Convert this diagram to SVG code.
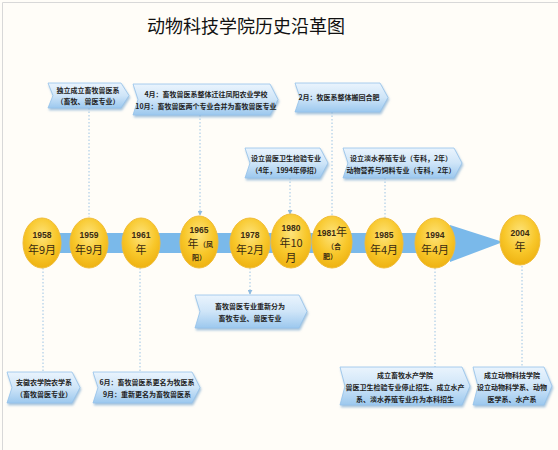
<svg xmlns="http://www.w3.org/2000/svg" width="558" height="450" viewBox="0 0 558 450">
<defs>
<linearGradient id="cg" x1="0" y1="0" x2="0" y2="1">
<stop offset="0" stop-color="#eaf4fd"/>
<stop offset="0.5" stop-color="#cfe5f8"/>
<stop offset="1" stop-color="#9cc8ee"/>
</linearGradient>
<radialGradient id="gg" cx="0.5" cy="0.35" r="0.65">
<stop offset="0" stop-color="#fde37a"/>
<stop offset="0.6" stop-color="#f8c72a"/>
<stop offset="1" stop-color="#eeb212"/>
</radialGradient>
<filter id="sh" x="-10%" y="-10%" width="130%" height="140%">
<feDropShadow dx="1" dy="2" stdDeviation="1" flood-color="#6d9fcc" flood-opacity="0.6"/>
</filter>
<marker id="ah" viewBox="0 0 6 6" refX="5" refY="3" markerWidth="5" markerHeight="5" orient="auto">
<path d="M0,0 L6,3 L0,6 Z" fill="#8fbbe0"/>
</marker>
</defs>
<style>
.co{fill:url(#cg);stroke:#94c2ea;stroke-width:0.8;filter:url(#sh)}
.ct{font-family:"Noto Sans CJK SC","Noto Sans",sans-serif;font-size:7px;font-weight:bold;fill:#222;text-anchor:middle}
.yr{fill:url(#gg);stroke:#f0bc38;stroke-width:1}
.y1{font-family:"Liberation Sans","Noto Sans CJK SC",sans-serif;font-size:8.5px;font-weight:bold;fill:#3a2a10;text-anchor:middle}
.y2{font-family:"Noto Sans CJK SC",sans-serif;font-size:11px;fill:#3a2a10;text-anchor:middle}
.y3{font-family:"Noto Sans CJK SC",sans-serif;font-size:7px;font-weight:bold;fill:#3a2a10;text-anchor:middle}
.dl{stroke:#9cc4e4;stroke-width:1;stroke-dasharray:1.5 2;fill:none}
</style>
<rect x="0" y="0" width="558" height="450" fill="#fffdf8"/>
<path d="M2.5,450 L2.5,2.5 L558,2.5" fill="none" stroke="#d8d8d8" stroke-width="1"/>
<text x="246" y="33" font-family="Noto Sans CJK SC,sans-serif" font-size="18" fill="#111" text-anchor="middle">动物科技学院历史沿革图</text>

<g id="timeline">
<rect x="30" y="233" width="425" height="20" fill="#7ab9ea"/>
<path d="M450,225 L503,242 L450,262 Z" fill="#7ab9ea"/>
</g>

<g id="connectors">
<line class="dl" x1="89" y1="108" x2="89" y2="217"/>
<line class="dl" x1="200" y1="115" x2="200" y2="215" marker-end="url(#ah)"/>
<line class="dl" x1="332" y1="112" x2="332" y2="216"/>
<line class="dl" x1="290" y1="178" x2="290" y2="214" marker-end="url(#ah)"/>
<line class="dl" x1="385" y1="178" x2="385" y2="222" marker-end="url(#ah)"/>
<line class="dl" x1="43" y1="268" x2="43" y2="372"/>
<line class="dl" x1="140" y1="268" x2="140" y2="372"/>
<line class="dl" x1="250" y1="268" x2="250" y2="294" marker-end="url(#ah)"/>
<line class="dl" x1="435" y1="268" x2="435" y2="367"/>
<line class="dl" x1="522" y1="252" x2="522" y2="367"/>
</g>

<g id="y1958"><ellipse class="yr" cx="42" cy="243" rx="19" ry="25"/><text class="y1" x="42" y="238">1958</text><text class="y2" x="42" y="254">年9月</text></g>
<g id="y1959"><ellipse class="yr" cx="89" cy="243" rx="19" ry="25"/><text class="y1" x="89" y="238">1959</text><text class="y2" x="89" y="254">年9月</text></g>
<g id="y1961"><ellipse class="yr" cx="141" cy="243" rx="19" ry="25"/><text class="y1" x="141" y="238">1961</text><text class="y2" x="141" y="254">年</text></g>
<g id="y1965"><ellipse class="yr" cx="199" cy="242" rx="19" ry="26"/><text class="y1" x="199" y="233">1965</text><text class="y2" x="193" y="248">年</text><text class="y3" x="206" y="247">（凤</text><text class="y3" x="199" y="260">阳）</text></g>
<g id="y1978"><ellipse class="yr" cx="250" cy="243" rx="20" ry="25"/><text class="y1" x="250" y="238">1978</text><text class="y2" x="250" y="254">年2月</text></g>
<g id="y1980"><ellipse class="yr" cx="291" cy="241" rx="20" ry="27"/><text class="y1" x="291" y="231">1980</text><text class="y2" x="291" y="247">年10</text><text class="y2" x="291" y="262">月</text></g>
<g id="y1981"><ellipse class="yr" cx="332" cy="242" rx="20" ry="26"/><text class="y1" x="332" y="236">1981<tspan font-family="Noto Sans CJK SC" font-size="11" font-weight="normal">年</tspan></text><text class="y3" x="334" y="249">（合</text><text class="y3" x="330" y="259">肥）</text></g>
<g id="y1985"><ellipse class="yr" cx="384" cy="243" rx="19" ry="25"/><text class="y1" x="384" y="238">1985</text><text class="y2" x="384" y="254">年4月</text></g>
<g id="y1994"><ellipse class="yr" cx="435" cy="243" rx="20" ry="25"/><text class="y1" x="435" y="238">1994</text><text class="y2" x="435" y="254">年4月</text></g>
<g id="y2004"><ellipse class="yr" cx="520" cy="240" rx="20" ry="25"/><text class="y1" x="520" y="236">2004</text><text class="y2" x="520" y="251">年</text></g>

<g id="c1959"><path class="co" d="M48,83 L121,83 L129,95.5 L121,108 L48,108 L53,95.5 Z"/><text class="ct" x="88" y="93">独立成立畜牧兽医系</text><text class="ct" x="88" y="104">（畜牧、兽医专业）</text></g>
<g id="c1965"><path class="co" d="M133,84 L270,84 L278,99.5 L270,115 L133,115 L138,99.5 Z"/><text class="ct" x="206" y="97">4月：畜牧兽医系整体迁往凤阳农业学校</text><text class="ct" x="206" y="109">10月：畜牧兽医两个专业合并为畜牧兽医专业</text></g>
<g id="c1981"><path class="co" d="M295,83 L380,83 L388,97.5 L380,112 L295,112 L300,97.5 Z"/><text class="ct" x="339" y="100">2月：牧医系整体搬回合肥</text></g>
<g id="c1980"><path class="co" d="M245,148 L320,148 L328,163 L320,178 L245,178 L250,163 Z"/><text class="ct" x="286" y="161">设立兽医卫生检验专业</text><text class="ct" x="286" y="173">（4年，1994年停招）</text></g>
<g id="c1985"><path class="co" d="M343,148 L454,148 L462,163 L454,178 L343,178 L348,163 Z"/><text class="ct" x="401" y="161">设立淡水养殖专业（专科，2年）</text><text class="ct" x="401" y="173">动物营养与饲料专业（专科，2年）</text></g>
<g id="c1978"><path class="co" d="M195,295 L299,295 L307,311.5 L299,328 L195,328 L200,311.5 Z"/><text class="ct" x="250" y="309">畜牧兽医专业重新分为</text><text class="ct" x="250" y="321">畜牧专业、兽医专业</text></g>
<g id="c1958"><path class="co" d="M7,372 L72,372 L80,387.5 L72,403 L7,403 L12,387.5 Z"/><text class="ct" x="44" y="385">安徽农学院农学系</text><text class="ct" x="44" y="397">（畜牧兽医专业）</text></g>
<g id="c1961"><path class="co" d="M93,372 L192,372 L200,387.5 L192,403 L93,403 L98,387.5 Z"/><text class="ct" x="147" y="385">6月：畜牧兽医系更名为牧医系</text><text class="ct" x="147" y="397">9月：重新更名为畜牧兽医系</text></g>
<g id="c1994"><path class="co" d="M340,367 L462,367 L470,386 L462,405 L340,405 L345,386 Z"/><text class="ct" x="405" y="378">成立畜牧水产学院</text><text class="ct" x="405" y="390">兽医卫生检验专业停止招生、成立水产</text><text class="ct" x="405" y="402">系、淡水养殖专业升为本科招生</text></g>
<g id="c2004"><path class="co" d="M473,367 L544,367 L552,386 L544,405 L473,405 L478,386 Z"/><text class="ct" x="512" y="378">成立动物科技学院</text><text class="ct" x="512" y="390">设立动物科学系、动物</text><text class="ct" x="512" y="402">医学系、水产系</text></g>
</svg>
